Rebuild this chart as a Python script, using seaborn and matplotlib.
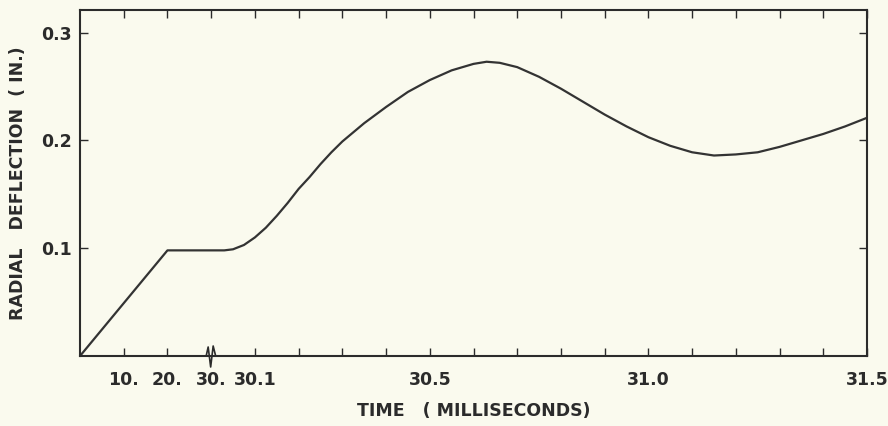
import numpy as np
import pandas as pd
import seaborn as sns
import matplotlib.pyplot as plt
from matplotlib.lines import Line2D

# values (time in ms, deflection in inches)
time_ms = [0.0, 20.0, 30.0, 30.03, 30.05, 30.075, 30.1, 30.125, 30.15, 30.175,
           30.2, 30.225, 30.25, 30.275, 30.3, 30.35, 30.4, 30.45, 30.5, 30.55,
           30.6, 30.63, 30.66, 30.7, 30.75, 30.8, 30.85, 30.9, 30.95, 31.0,
           31.05, 31.1, 31.15, 31.2, 31.25, 31.3, 31.35, 31.4, 31.45, 31.5]
deflection_in = [0.0, 0.098, 0.098, 0.098, 0.099, 0.103, 0.110, 0.119, 0.130, 0.142,
                 0.155, 0.166, 0.178, 0.189, 0.199, 0.216, 0.231, 0.245, 0.256, 0.265,
                 0.271, 0.273, 0.272, 0.268, 0.259, 0.248, 0.236, 0.224, 0.213, 0.203,
                 0.195, 0.189, 0.186, 0.187, 0.189, 0.194, 0.200, 0.206, 0.213, 0.221]

tick_times = [10, 20, 30, 30.1, 30.2, 30.3, 30.4, 30.5, 30.6, 30.7, 30.8, 30.9,
              31.0, 31.1, 31.2, 31.3, 31.4, 31.5]
tick_labels = {10: "10.", 20: "20.", 30: "30.", 30.1: "30.1", 30.5: "30.5",
               31.0: "31.0", 31.5: "31.5"}
y_ticks = [0.1, 0.2, 0.3]
y_labels = ["0.1", "0.2", "0.3"]

df = pd.DataFrame({"time": time_ms, "deflection": deflection_in})

bg = "#fafaee"
ink = "#2b2b2b"

sns.set_style("ticks")
plt.rcParams["font.family"] = ["DejaVu Sans"]


# broken time axis: 0-30 ms compressed, 30-31.5 ms stretched 100x
def fwd(t):
    t = np.asarray(t, dtype=float)
    return np.where(t <= 30, t / 10.0, 3 + (t - 30) * 10.0)


def inv(u):
    u = np.asarray(u, dtype=float)
    return np.where(u <= 3, u * 10.0, 30 + (u - 3) / 10.0)


fig = plt.figure(figsize=(8.88, 4.26), dpi=100, facecolor=bg)
ax = fig.add_axes([80 / 888, 1 - 356 / 426, (867 - 80) / 888, (356 - 10) / 426])
ax.set_facecolor(bg)
ax.set_xscale("function", functions=(fwd, inv))

sns.lineplot(data=df, x="time", y="deflection", ax=ax, sort=False, estimator=None,
             color="#333333", linewidth=1.6)

ax.set_xlim(0, 31.5)
ax.set_ylim(0, 0.321)

ax.set_xticks(tick_times)
ax.set_xticklabels([tick_labels.get(t, "") for t in tick_times], fontweight="bold")
ax.xaxis.set_minor_locator(plt.NullLocator())
ax.set_yticks(y_ticks)
ax.set_yticklabels(y_labels, fontweight="bold")

ax.tick_params(axis="x", direction="in", length=6, width=1, color=ink, top=True,
               pad=11, labelsize=12.5, labelcolor=ink)
ax.tick_params(axis="y", direction="in", length=6, width=1, color=ink, right=True,
               pad=6, labelsize=12.5, labelcolor=ink)
# no bottom tick at the break
ax.xaxis.get_major_ticks()[2].tick1line.set_visible(False)

for s in ax.spines.values():
    s.set_linewidth(1.5)
    s.set_color(ink)

ax.set_xlabel("TIME   ( MILLISECONDS)", fontsize=12.5, color=ink, labelpad=9,
              fontweight="bold")
ax.set_ylabel("RADIAL   DEFLECTION  ( IN.)", fontsize=12.5, color=ink, labelpad=10,
              fontweight="bold")

# break mark on the time axis at 30 ms
px, py = ax.transData.transform((30, 0))
zx = [-11, -5, -3, -0.5, 2, 4.5, 11]
zy = [0, 0, 9, -11, 10, 0, 0]
fx = [(px + a) / 888 for a in zx]
fy = [(py + b) / 426 for b in zy]
fig.add_artist(Line2D(fx, fy, color=ink, linewidth=1.2, transform=fig.transFigure))

fig.savefig("out.png", dpi=100, facecolor=bg)
